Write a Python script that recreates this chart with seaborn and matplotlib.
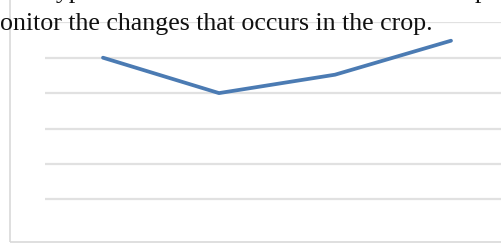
import matplotlib.pyplot as plt
import seaborn as sns
import pandas as pd
from matplotlib.patches import Rectangle

# data (gridlines taken as 1 unit apart)
stages = [0, 1, 2, 3]
values = [5.0, 4.0, 4.52, 5.48]
grid_levels = [1, 2, 3, 4, 5, 6]

caption = "onitor the changes that occurs in the crop."

df = pd.DataFrame({"stage": stages, "value": values})

sns.set_theme(style="white")
plt.rcParams["font.family"] = ["Liberation Serif", "DejaVu Serif"]

W, H = 502, 245
fig = plt.figure(figsize=(W / 100, H / 100), dpi=100)
fig.patch.set_facecolor("white")

# chart frame (cropped on top and right)
fig.add_artist(Rectangle((10 / W, 3 / H), 2.0, 2.0, transform=fig.transFigure,
                         fill=False, edgecolor="#d9d9d9", linewidth=1.2, zorder=0))

ax = fig.add_axes([45 / W, (H - 234.7) / H, 464 / W, (234.7 - 22.3) / H])
ax.set_facecolor("none")
for lv in grid_levels:
    ax.axhline(lv, color="#e1e1e1", linewidth=1.6, zorder=1)

sns.lineplot(data=df, x="stage", y="value", ax=ax, color="#4b7bb3",
             linewidth=2.7, zorder=3)

ax.set_xlim(-0.5, 3.5)
ax.set_ylim(0, 6)
ax.set_xticks([])
ax.set_yticks([])
ax.set_xlabel("")
ax.set_ylabel("")
for s in ax.spines.values():
    s.set_visible(False)

fig.text(-0.5 / W, 1 - 30 / H, caption, fontsize=18.6, color="#111111",
         ha="left", va="baseline", zorder=5)

# tails of the line above, cut off by the crop
fig.text(44 / W, 1 + 1.5 / H, "hyp", fontsize=18.6, color="#111111",
         ha="left", va="baseline", zorder=5)
fig.text(475 / W, 1 + 1.5 / H, "p", fontsize=18.6, color="#111111",
         ha="left", va="baseline", zorder=5)

fig.savefig("out.png", dpi=100)
